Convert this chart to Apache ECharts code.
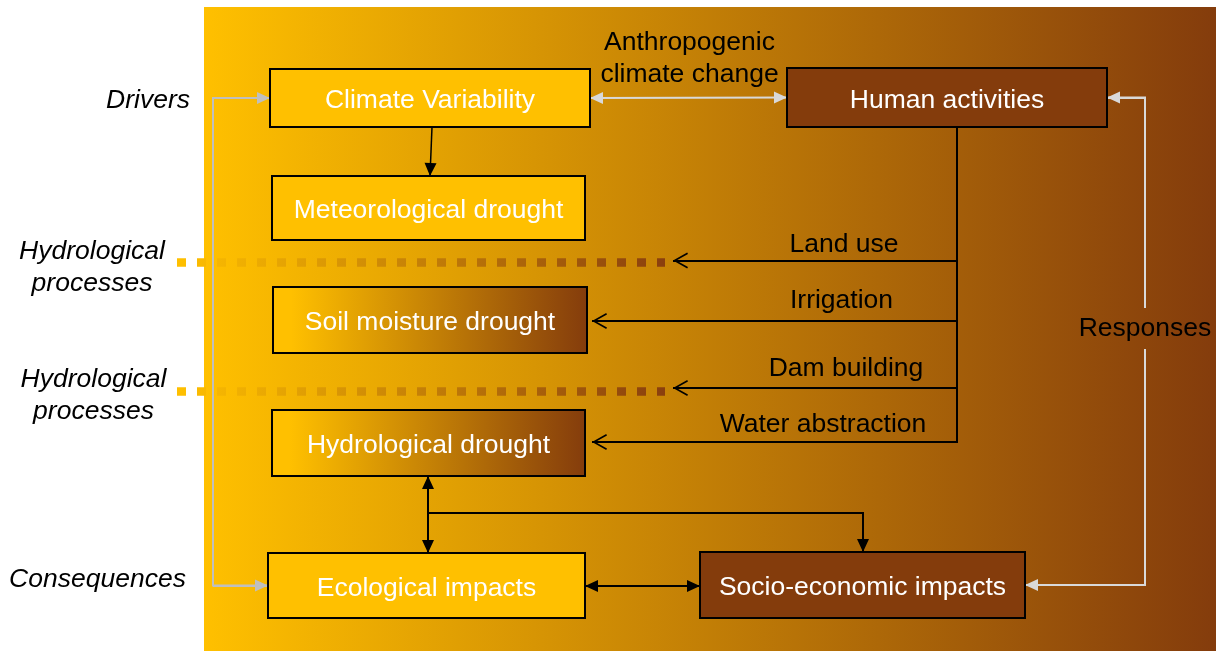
<!DOCTYPE html>
<html>
<head>
<meta charset="utf-8">
<title>Drivers and consequences of drought</title>
<script src="https://cdn.jsdelivr.net/npm/echarts@6/dist/echarts.min.js"></script>
<style>
  html, body { margin: 0; padding: 0; background: #fff; }
  #chart { width: 1222px; height: 651px; }
</style>
</head>
<body>
<div id="chart"></div>
<script>
// ---- text content ----
const boxLabels = ['Climate Variability', 'Meteorological drought', 'Soil moisture drought',
  'Hydrological drought', 'Ecological impacts', 'Human activities', 'Socio-economic impacts'];
const sideLabels = ['Drivers', 'Hydrological\nprocesses', 'Hydrological\nprocesses', 'Consequences'];
const influenceLabels = ['Land use', 'Irrigation', 'Dam building', 'Water abstraction'];
const couplingLabel = 'Anthropogenic\nclimate change';
const feedbackLabel = 'Responses';

// ---- layout, in the pixel space of the hidden axes ----
const canvasW = 1222, canvasH = 651;
const panel = [204, 7, 1216, 651];
const boxLeft   = [270, 272, 273, 272, 268, 787, 700];
const boxRight  = [590, 585, 587, 585, 585, 1107, 1025];
const boxTop    = [69, 176, 287, 410, 553, 68, 552];
const boxBottom = [127, 240, 353, 476, 618, 127, 618];
const boxFill   = ['solid', 'solid', 'fade', 'fade', 'solid', 'dark', 'dark'];

const sideX = [190, 92, 93.5, 97.5];
const sideY = [99, 266, 393.5, 578];
const sideAlign = ['right', 'center', 'center', 'center'];

const influenceRow = [260.5, 321, 388, 442];
const influenceTip = [673, 592, 673, 592];
const influenceTextX = [844, 841.5, 846, 823];
const influenceTextY = [242.5, 298.5, 367, 423];
const couplingPos = [689.5, 57];
const feedbackPos = [1145, 326.5];

const dottedRows = [262.5, 391.5];
const dottedSpan = [177, 665];

const leftBusX = 213, rightBusX = 1145, humanBusX = 957;
const impactBusY = 513, impactDropX = 863;
const responsesGap = [308, 349];

// ---- styles ----
const yellow = '#FFC000', brown = '#843C0C';
const FONT = '"Liberation Sans", Arial, Helvetica, sans-serif';
const FS = 26.5;
const TEXT_DY = 2;
const greyA = '#bfbfbf', greyB = '#d9d9d9';
const headFilled = 'path://M6,0L6.01,0Z M6,13L12,26L0,26Z';
const headOpen = 'path://M8,0L8.01,0Z M8,15L16,29.2L14.6,30L8,18.4L1.4,30L0,29.2Z';
const filledSize = [12, 26];
const openSize = [16, 30];

function hgrad(stops) {
  return { type: 'linear', x: 0, y: 0, x2: 1, y2: 0, colorStops: stops };
}
const fills = {
  solid: yellow,
  dark: brown,
  fade: hgrad([{ offset: 0, color: yellow }, { offset: 0.06, color: yellow }, { offset: 1, color: brown }])
};

const midY = i => (boxTop[i] + boxBottom[i]) / 2;

// ---- connectors ----
const greyPaths = [
  { coords: [[boxLeft[0], midY(0)], [leftBusX, midY(0)], [leftBusX, midY(4)], [boxLeft[4], midY(4)]], lineStyle: { color: greyA } },
  { coords: [[rightBusX, responsesGap[0]], [rightBusX, midY(5)], [boxRight[5], midY(5)]], lineStyle: { color: greyB } },
  { coords: [[rightBusX, responsesGap[1]], [rightBusX, midY(6)], [boxRight[6], midY(6)]], lineStyle: { color: greyB } }
];
const greyArrows = [
  { coords: [[leftBusX, midY(0)], [boxLeft[0], midY(0)]], lineStyle: { color: greyA } },
  { coords: [[leftBusX, midY(4)], [boxLeft[4], midY(4)]], lineStyle: { color: greyA } },
  { coords: [[rightBusX, midY(5)], [boxRight[5], midY(5)]], lineStyle: { color: greyB } },
  { coords: [[rightBusX, midY(6)], [boxRight[6], midY(6)]], lineStyle: { color: greyB } },
  { coords: [[boxRight[0], midY(0)], [boxLeft[5], midY(5)]], lineStyle: { color: greyB }, symbol: [headFilled, headFilled] }
];
const blackPaths = [
  { coords: [[humanBusX, boxBottom[5]], [humanBusX, influenceRow[3]], [humanBusX - 12, influenceRow[3]]] },
  { coords: [[428, impactBusY], [impactDropX, impactBusY], [impactDropX, impactBusY + 20]] }
];
const blackArrows = [
  { coords: [[432, boxBottom[0]], [430, boxTop[1]]], lineStyle: { width: 1.5 } },
  { coords: [[impactDropX, impactBusY], [impactDropX, boxTop[6]]] },
  { coords: [[428, boxBottom[3]], [428, boxTop[4]]], symbol: [headFilled, headFilled] },
  { coords: [[boxRight[4], 586], [boxLeft[6], 586]], symbol: [headFilled, headFilled] }
];
const openArrows = influenceRow.map((y, i) => ({ coords: [[humanBusX + 1, y], [influenceTip[i], y]] }));
const dotted = dottedRows.map(y => ({ coords: [[dottedSpan[0], y], [dottedSpan[1], y]] }));

function textItem(x, y, text, extra) {
  return { type: 'text', x: x, y: y + TEXT_DY,
    style: Object.assign({ text: text, fill: '#000', fontSize: FS, fontFamily: FONT,
      align: 'center', verticalAlign: 'middle', lineHeight: 32 }, extra || {}) };
}

const chart = echarts.init(document.getElementById('chart'));
chart.setOption({
  animation: false,
  backgroundColor: '#ffffff',
  grid: { left: 0, right: 0, top: 0, bottom: 0 },
  xAxis: { type: 'value', min: 0, max: canvasW, show: false },
  yAxis: { type: 'value', min: 0, max: canvasH, inverse: true, show: false },
  series: [
    {
      type: 'custom', name: 'panel', z: 1, silent: true,
      data: [panel],
      renderItem: (params, api) => {
        const a = api.coord([api.value(0), api.value(1)]);
        const b = api.coord([api.value(2), api.value(3)]);
        return { type: 'rect', shape: { x: a[0], y: a[1], width: b[0] - a[0], height: b[1] - a[1] },
          style: { fill: hgrad([{ offset: 0, color: yellow }, { offset: 1, color: brown }]) } };
      }
    },
    {
      type: 'lines', name: 'processes', coordinateSystem: 'cartesian2d', z: 2, silent: true,
      lineStyle: { width: 8.5, opacity: 1, type: [9, 11], cap: 'butt',
        color: { type: 'linear', x: dottedSpan[0], y: 0, x2: dottedSpan[1], y2: 0, global: true,
          colorStops: [{ offset: 0, color: yellow }, { offset: 1, color: '#8a3f0e' }] } },
      data: dotted
    },
    {
      type: 'lines', name: 'greyPaths', coordinateSystem: 'cartesian2d', polyline: true, z: 3, silent: true,
      lineStyle: { width: 2, opacity: 1, color: greyA },
      data: greyPaths
    },
    {
      type: 'lines', name: 'greyArrows', coordinateSystem: 'cartesian2d', z: 3, silent: true,
      symbol: ['none', headFilled], symbolSize: [filledSize, filledSize],
      lineStyle: { width: 2, opacity: 1, color: greyA },
      data: greyArrows
    },
    {
      type: 'lines', name: 'blackPaths', coordinateSystem: 'cartesian2d', polyline: true, z: 3, silent: true,
      lineStyle: { width: 2, opacity: 1, color: '#000' },
      data: blackPaths
    },
    {
      type: 'lines', name: 'blackArrows', coordinateSystem: 'cartesian2d', z: 3, silent: true,
      symbol: ['none', headFilled], symbolSize: [filledSize, filledSize],
      lineStyle: { width: 2, opacity: 1, color: '#000' },
      data: blackArrows
    },
    {
      type: 'lines', name: 'influences', coordinateSystem: 'cartesian2d', z: 3, silent: true,
      symbol: ['none', headOpen], symbolSize: [openSize, openSize],
      lineStyle: { width: 2, opacity: 1, color: '#000' },
      data: openArrows
    },
    {
      type: 'custom', name: 'boxes', z: 4, silent: true,
      data: boxLabels.map((_, i) => [boxLeft[i], boxTop[i], boxRight[i], boxBottom[i]]),
      renderItem: (params, api) => {
        const i = params.dataIndex;
        const a = api.coord([api.value(0), api.value(1)]);
        const b = api.coord([api.value(2), api.value(3)]);
        return { type: 'group', children: [
          { type: 'rect', shape: { x: a[0], y: a[1], width: b[0] - a[0], height: b[1] - a[1] },
            style: { fill: fills[boxFill[i]], stroke: '#000', lineWidth: 2 } },
          textItem((a[0] + b[0]) / 2, (a[1] + b[1]) / 2 + 1, boxLabels[i], { fill: '#fff' })
        ] };
      }
    },
    {
      type: 'custom', name: 'sideLabels', z: 5, silent: true,
      data: sideLabels.map((_, i) => [sideX[i], sideY[i]]),
      renderItem: (params, api) => {
        const i = params.dataIndex;
        const p = api.coord([api.value(0), api.value(1)]);
        return textItem(p[0], p[1], sideLabels[i], { fontStyle: 'italic', align: sideAlign[i] });
      }
    },
    {
      type: 'custom', name: 'influenceLabels', z: 5, silent: true,
      data: influenceLabels.map((_, i) => [influenceTextX[i], influenceTextY[i]]),
      renderItem: (params, api) => {
        const p = api.coord([api.value(0), api.value(1)]);
        return textItem(p[0], p[1], influenceLabels[params.dataIndex]);
      }
    },
    {
      type: 'custom', name: 'linkLabels', z: 5, silent: true,
      data: [couplingPos, feedbackPos],
      renderItem: (params, api) => {
        const p = api.coord([api.value(0), api.value(1)]);
        return textItem(p[0], p[1], [couplingLabel, feedbackLabel][params.dataIndex]);
      }
    }
  ]
});
</script>
</body>
</html>
